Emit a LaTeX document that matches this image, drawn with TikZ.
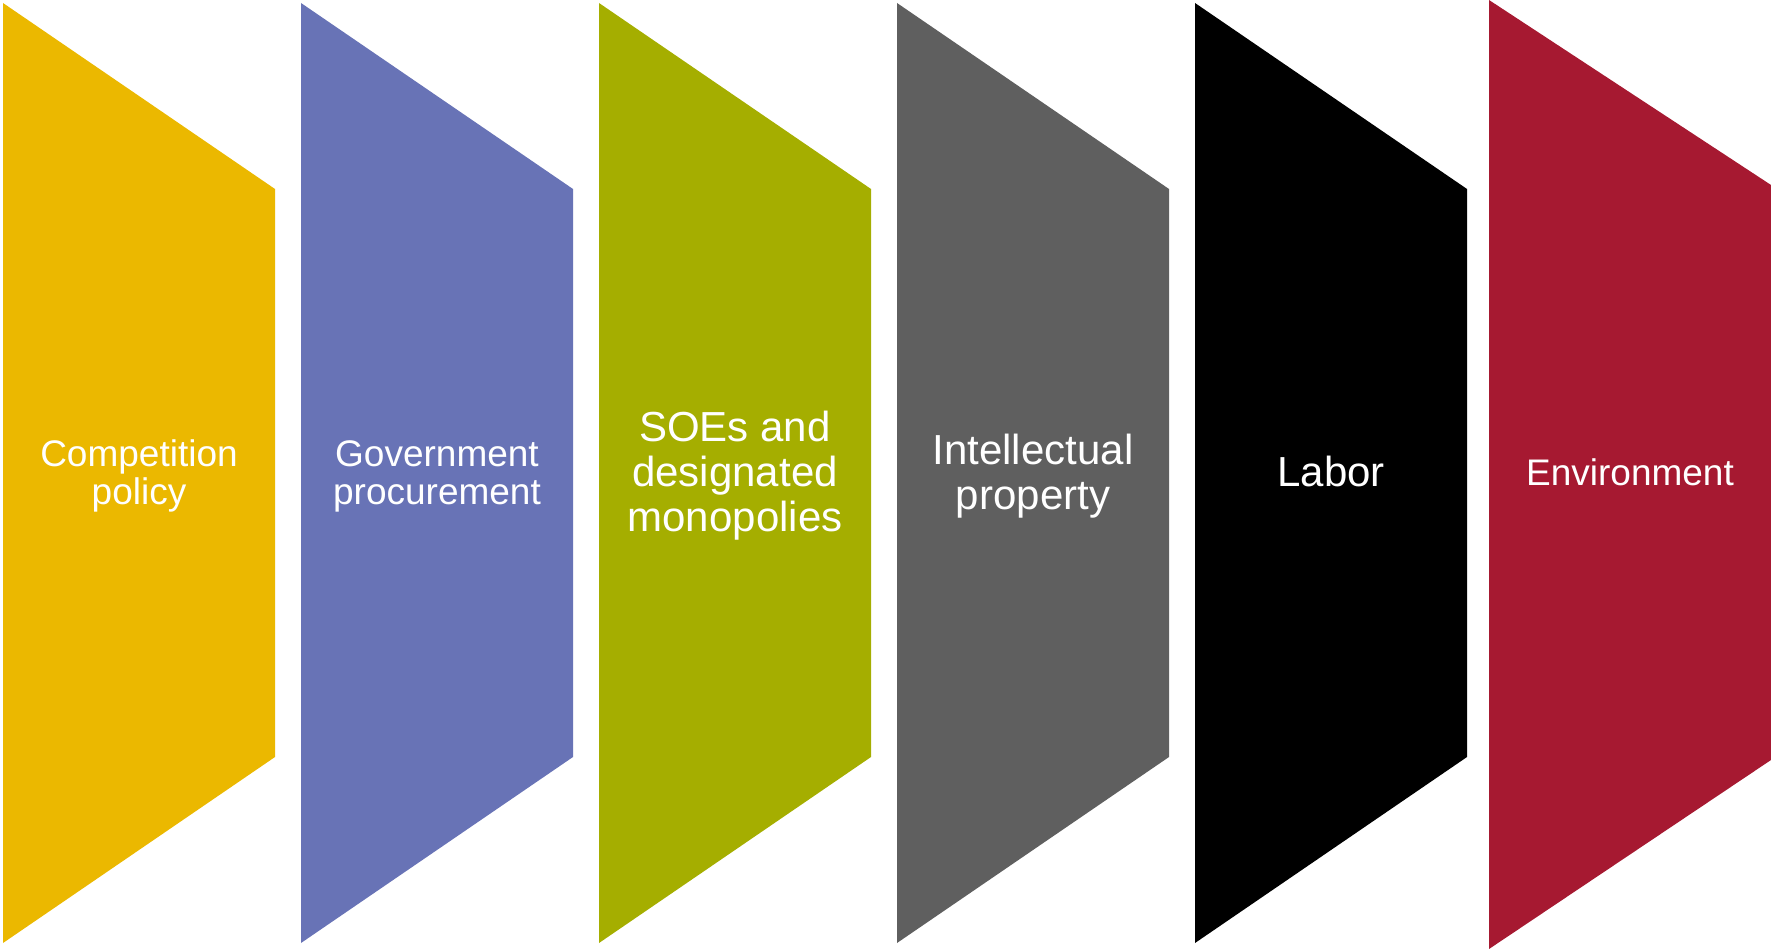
\documentclass[tikz,border=0pt]{standalone}
\usepackage{fontspec}
\setmainfont{Liberation Sans}
\definecolor{cYellow}{RGB}{235,184,0}
\definecolor{cBlue}{RGB}{104,115,182}
\definecolor{cOlive}{RGB}{165,174,0}
\definecolor{cGray}{RGB}{95,95,95}
\definecolor{cBlack}{RGB}{0,0,0}
\definecolor{cRed}{RGB}{166,25,49}
\begin{document}
\begin{tikzpicture}[x=1pt,y=-1pt,
  txt/.style={text=white, align=center, inner sep=0pt,
    font=\fontsize{37}{38}\selectfont},
  bigtxt/.style={text=white, align=center, inner sep=0pt,
    font=\fontsize{42}{45}\selectfont}]
\useasboundingbox (0,0) rectangle (1771,949);
% chevron bands, notched on the right side
\foreach \x/\c in {3/cYellow,301/cBlue,599/cOlive,897/cGray,1195/cBlack}{
  \fill[\c] (\x,3) -- (\x+272,189) -- (\x+272,757) -- (\x,943) -- cycle;
}
\fill[cRed] (1489,0) -- (1771,185) -- (1771,760) -- (1489,949) -- cycle;
% labels
\node[txt] (competition) at (139,476) {Competition\\policy};
\node[txt] (procurement) at (437,476) {Government\\procurement};
\node[bigtxt] (soes) at (735,476) {SOEs and\\designated\\monopolies};
\node[bigtxt] (ip) at (1033,476) {Intellectual\\property};
\node[bigtxt] (labor) at (1331,471) {Labor};
\node[txt] (environment) at (1630,472) {Environment};
\end{tikzpicture}
\end{document}
